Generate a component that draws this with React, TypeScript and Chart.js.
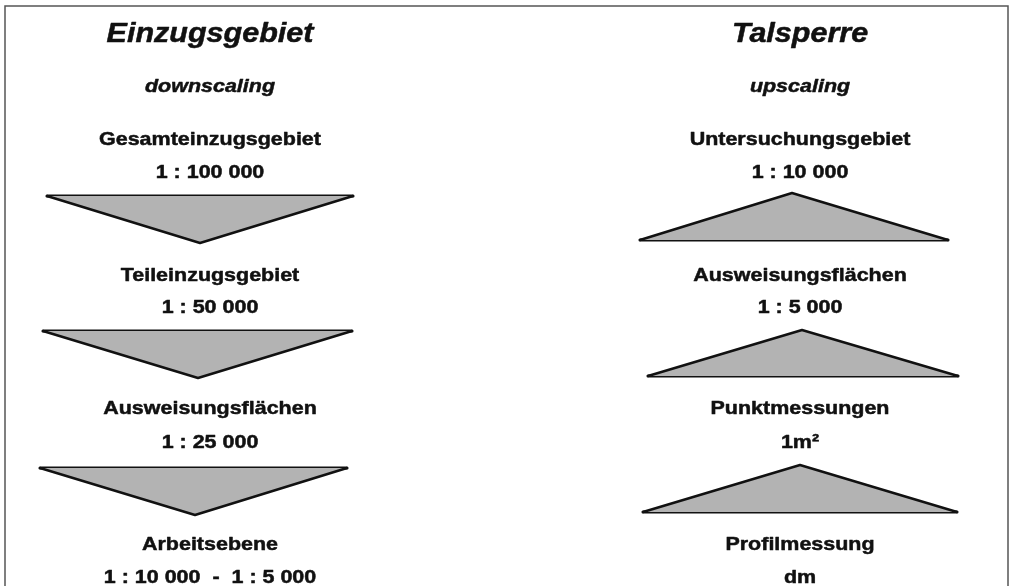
import React, { useEffect, useRef } from "react";
import { Chart, registerables } from "chart.js";

Chart.register(...registerables);

const W = 1011;
const H = 586;

// Column headings
const columnTitles = ["Einzugsgebiet", "Talsperre"];
const columnModes = ["downscaling", "upscaling"];

// Levels and their map scales
const leftLevels = ["Gesamteinzugsgebiet", "Teileinzugsgebiet", "Ausweisungsflächen", "Arbeitsebene"];
const leftScales = ["1 : 100 000", "1 : 50 000", "1 : 25 000", "1 : 10 000  -  1 : 5 000"];
const rightLevels = ["Untersuchungsgebiet", "Ausweisungsflächen", "Punktmessungen", "Profilmessung"];
const rightScales = ["1 : 10 000", "1 : 5 000", "1m²", "dm"];

// Arrow triangles: [left x, tip x, right x, base y, tip y]
const leftArrows = [
  [47, 200, 353, 196, 243],
  [43, 198, 352, 331, 378],
  [40, 195, 347, 468, 515],
];
const rightArrows = [
  [640, 792, 948, 240, 193],
  [648, 802, 958, 376, 330],
  [643, 800, 957, 512, 465],
];

// Layout rows (baselines) and column centres
const titleRow = 42;
const modeRow = 92;
const levelRows = [145, 281, 414, 550];
const scaleRows = [178, 313, 448, 583];
const columnCenters = [210, 800];

const FILL = "#b3b3b3";
const STROKE = "#111111";
const FONT = "'Liberation Sans', Arial, sans-serif";
const XSTRETCH = 1.13;

function arrowDatasets(arrows: number[][]) {
  const out: any[] = [];
  arrows.forEach(([l, t, r, base, tip]) => {
    out.push({
      data: [
        { x: l, y: base },
        { x: t, y: tip },
        { x: r, y: base },
      ],
      showLine: true,
      fill: { value: base },
      backgroundColor: FILL,
      borderColor: STROKE,
      borderWidth: 2.5,
      borderJoinStyle: "round",
      borderCapStyle: "round",
      pointRadius: 0,
      tension: 0,
    });
    out.push({
      data: [
        { x: l, y: base },
        { x: r, y: base },
      ],
      showLine: true,
      fill: false,
      borderColor: STROKE,
      borderWidth: 3,
      borderCapStyle: "round",
      pointRadius: 0,
    });
  });
  return out;
}

const textPlugin = {
  id: "diagramText",
  afterDatasetsDraw(chart: any) {
    const { ctx, scales } = chart;
    const xs = scales.x;
    const ys = scales.y;
    const draw = (text: string, cx: number, by: number, font: string) => {
      ctx.save();
      ctx.font = font;
      ctx.fillStyle = "#111111";
      ctx.strokeStyle = "#111111";
      ctx.lineWidth = 0.5;
      ctx.lineJoin = "round";
      ctx.textAlign = "center";
      ctx.textBaseline = "alphabetic";
      ctx.translate(xs.getPixelForValue(cx), ys.getPixelForValue(by));
      ctx.scale(XSTRETCH, 1);
      ctx.fillText(text, 0, 0);
      ctx.strokeText(text, 0, 0);
      ctx.restore();
    };
    const cols = [
      [leftLevels, leftScales],
      [rightLevels, rightScales],
    ];
    cols.forEach(([levels, sc], i) => {
      const cx = columnCenters[i];
      draw(columnTitles[i], cx, titleRow, `italic bold 27px ${FONT}`);
      draw(columnModes[i], cx, modeRow, `italic bold 19px ${FONT}`);
      levels.forEach((t, j) => draw(t, cx, levelRows[j], `bold 19px ${FONT}`));
      sc.forEach((t, j) => draw(t, cx, scaleRows[j], `bold 19px ${FONT}`));
    });
  },
};

export default function App() {
  const ref = useRef<HTMLCanvasElement>(null);
  useEffect(() => {
    if (!ref.current) return;
    const chart = new Chart(ref.current, {
      type: "scatter",
      data: {
        datasets: [
          {
            data: [
              { x: 5, y: H },
              { x: 5, y: 6 },
              { x: 1008, y: 6 },
              { x: 1008, y: H },
            ],
            showLine: true,
            fill: false,
            borderColor: "#555555",
            borderWidth: 1.5,
            pointRadius: 0,
          },
          ...arrowDatasets(leftArrows),
          ...arrowDatasets(rightArrows),
        ] as any,
      },
      options: {
        animation: false,
        responsive: false,
        devicePixelRatio: 1,
        layout: { padding: 0 },
        plugins: {
          legend: { display: false },
          tooltip: { enabled: false },
          title: { display: false },
        },
        scales: {
          x: { type: "linear", min: 0, max: W, display: false },
          y: { type: "linear", min: 0, max: H, reverse: true, display: false },
        },
        events: [],
      } as any,
      plugins: [textPlugin],
    });
    return () => chart.destroy();
  }, []);
  return (
    <div style={{ position: "fixed", left: 0, top: 0, width: W, height: H, background: "#fff" }}>
      <canvas ref={ref} width={W} height={H} style={{ display: "block" }} />
    </div>
  );
}
